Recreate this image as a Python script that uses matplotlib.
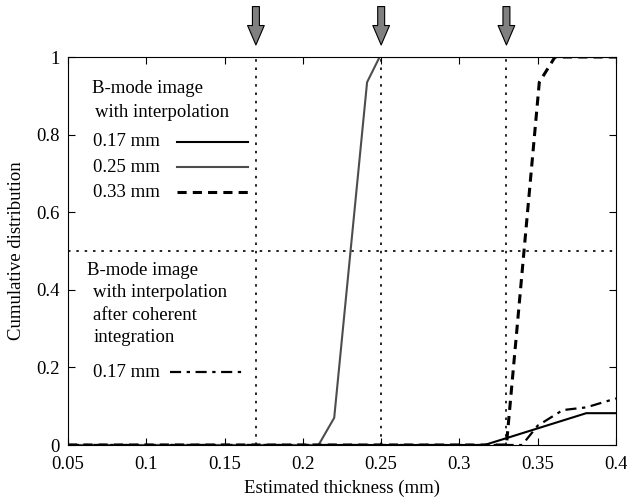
import numpy as np
import matplotlib.pyplot as plt

plt.rcParams['font.family'] = ['Liberation Serif', 'DejaVu Serif']
plt.rcParams['font.size'] = 13.5

# cumulative distributions of estimated thickness
x_017 = [0.05, 0.316, 0.381, 0.4]
y_017 = [0.0, 0.0, 0.082, 0.082]

x_025 = [0.05, 0.21, 0.22, 0.241, 0.249, 0.4]
y_025 = [0.0, 0.0, 0.07, 0.935, 1.0, 1.0]

x_033 = [0.05, 0.330, 0.351, 0.361, 0.4]
y_033 = [0.0, 0.0, 0.935, 1.0, 1.0]

x_coh = [0.05, 0.340, 0.35, 0.366, 0.381, 0.4]
y_coh = [0.0, 0.0, 0.05, 0.09, 0.097, 0.12]

true_thickness = [0.17, 0.25, 0.33]
xticks = [0.05, 0.1, 0.15, 0.2, 0.25, 0.3, 0.35, 0.4]
xticklabels = ['0.05', '0.1', '0.15', '0.2', '0.25', '0.3', '0.35', '0.4']
yticks = [0, 0.2, 0.4, 0.6, 0.8, 1]
yticklabels = ['0', '0.2', '0.4', '0.6', '0.8', '1']

fig = plt.figure(figsize=(6.27, 5.0), dpi=100)
ax = fig.add_axes([0.1085, 0.11, 0.874, 0.776])

dot = (0, (1.5, 3.5))
dashed = (0, (3, 2))
dashdot = (0, (5, 2.5, 1.5, 2.5))

for t in true_thickness:
    ax.axvline(t, color='black', lw=1.2, ls=dot)
    ax.annotate('', xy=(t, 1.031), xytext=(t, 1.13),
                xycoords=('data', 'axes fraction'),
                arrowprops=dict(width=5, headwidth=12, headlength=14,
                                fc='0.5', ec='black', lw=0.8))
ax.axhline(0.5, color='black', lw=1.2, ls=dot)

ax.plot(x_017, y_017, color='black', lw=1.5)
ax.plot(x_025, y_025, color='0.3', lw=1.5)
ax.plot(x_033, y_033, color='black', lw=2.2, ls=dashed)
ax.plot(x_coh, y_coh, color='black', lw=1.6, ls=dashdot)

ax.set_xlim(0.05, 0.4)
ax.set_ylim(0, 1)
ax.set_xticks(xticks)
ax.set_xticklabels(xticklabels)
ax.set_yticks(yticks)
ax.set_yticklabels(yticklabels)
ax.tick_params(direction='in', top=True, right=True, length=5, width=0.8)
ax.tick_params(axis='x', pad=8)
ax.tick_params(axis='y', pad=6)
ax.set_xlabel('Estimated thickness (mm)', labelpad=5)
ax.set_ylabel('Cumulative distribution', labelpad=8)

# hand-placed key
txt = dict(transform=ax.transAxes, va='center', ha='left')
ax.text(0.044, 0.920, 'B-mode image', **txt)
ax.text(0.049, 0.858, 'with interpolation', **txt)
keys = [(0.781, '0.17 mm', 'black', 1.5, '-'),
        (0.716, '0.25 mm', '0.3', 1.5, '-'),
        (0.652, '0.33 mm', 'black', 2.2, dashed)]
for yk, lab, c, w, s in keys:
    ax.text(0.046, yk, lab, **txt)
    ax.plot([0.199, 0.328], [yk, yk], transform=ax.transAxes, color=c, lw=w, ls=s)

ax.text(0.035, 0.451, 'B-mode image', **txt)
ax.text(0.046, 0.394, 'with interpolation', **txt)
ax.text(0.046, 0.335, 'after coherent', **txt)
ax.text(0.046, 0.276, 'integration', **txt)
ax.text(0.046, 0.188, '0.17 mm', **txt)
ax.plot([0.186, 0.323], [0.188, 0.188], transform=ax.transAxes,
        color='black', lw=1.6, ls=dashdot)

fig.savefig('out.png', dpi=100)
